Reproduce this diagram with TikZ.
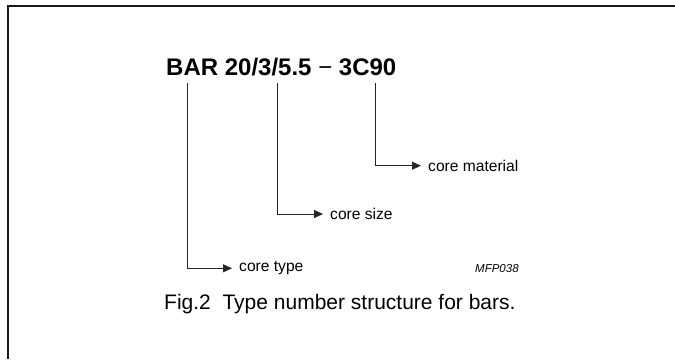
\documentclass[tikz,border=0pt]{standalone}
\usepackage{fontspec}
\setmainfont{Liberation Sans}
\usepackage{tikz}
\usetikzlibrary{arrows.meta, positioning}

\begin{document}
\begin{tikzpicture}[
  x=1pt, y=1pt,
  frame/.style={line width=2pt, black!90},
  arrow/.style={-{Triangle[length=9pt, width=8pt]}, line width=0.9pt, black!85},
  typecode/.style={inner sep=0pt, anchor=base west, font=\bfseries\fontsize{24}{28}\selectfont},
  part/.style={inner sep=0pt, anchor=west, font=\fontsize{15.6}{18}\selectfont},
  figref/.style={inner sep=0pt, anchor=base west, font=\itshape\fontsize{11.5}{13}\selectfont},
  caption/.style={inner sep=0pt, anchor=base west, font=\fontsize{21}{25}\selectfont}
]
\useasboundingbox (0,0) rectangle (675,-359);
\draw[frame] (8,-359) -- (8,-6) -- (675,-6);

\node[typecode] (code) at (166,-75) {BAR 20/3/5.5 \textmd{−} 3C90};

\coordinate (typeTop) at (187.5,-83);
\coordinate (sizeTop) at (277,-83);
\coordinate (materialTop) at (375,-83);

\node[part] (coreMaterial) at (428,-165.7) {core material};
\node[part] (coreSize) at (330,-214) {core size};
\node[part] (coreType) at (239,-268.3) {core type};

\draw[arrow, shorten >=7pt] (materialTop) |- (coreMaterial.west);
\draw[arrow, shorten >=7pt] (sizeTop) |- (coreSize.west);
\draw[arrow, shorten >=7pt] (typeTop) |- (coreType.west);

\node[figref] (mfp) at (475,-272.3) {MFP038};
\node[caption] (fig) at (164,-309.3) {Fig.2~~Type number structure for bars.};
\end{tikzpicture}
\end{document}
